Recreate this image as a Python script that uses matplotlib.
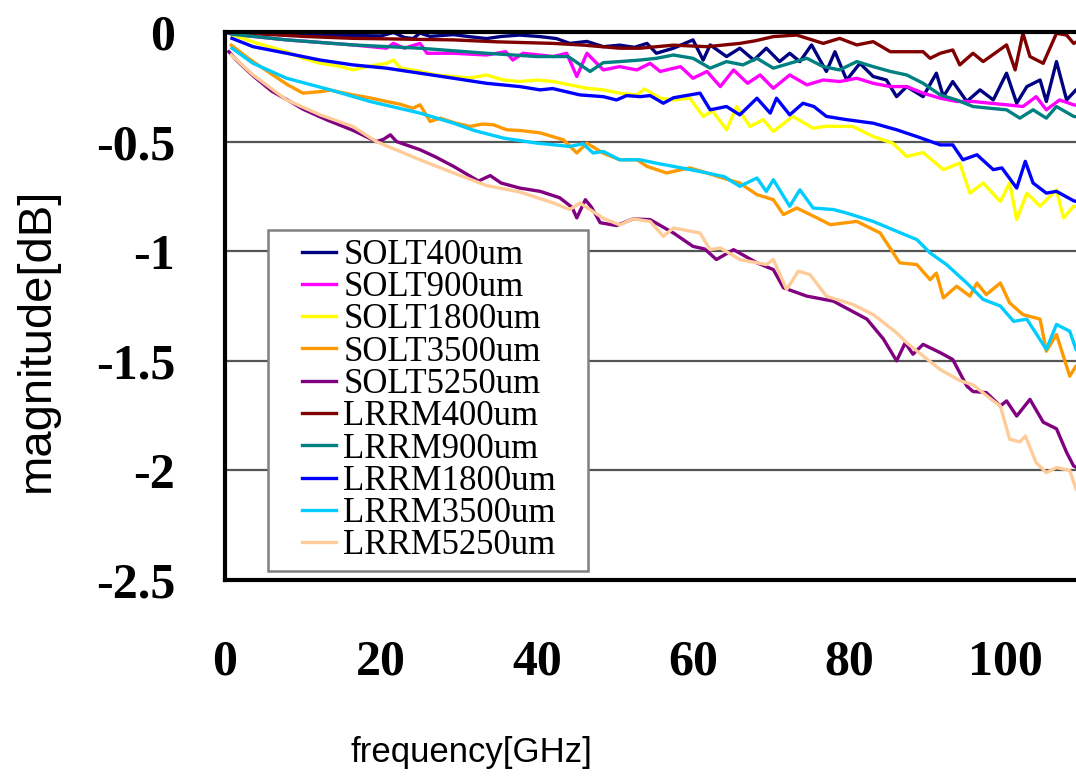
#!/usr/bin/env python3
from __future__ import annotations

import matplotlib

matplotlib.use("Agg")
import matplotlib.pyplot as plt
from matplotlib.legend_handler import HandlerLine2D
from matplotlib.lines import Line2D

# frequency [GHz] / magnitude [dB]
SOLT400_GHZ = [0.5, 5, 10, 15, 20, 21.6, 23, 24.1, 25, 26.3, 29.3, 31.5, 33.5, 35.5, 37.8,
               40.4, 42.5, 44.2, 46.4, 48.5, 50.6, 52.5, 54.1, 55.3, 57.5, 60, 61.3, 62.2,
               64.3, 66, 67.8, 69.4, 71.1, 72.4, 73.7, 75.2, 77.1, 78.2, 79.7, 81.4, 83.1,
               84.8, 86.1, 87.4, 89.5, 91.2, 92.1, 93.3, 95.1, 96.8, 98.5, 100.2, 101.5,
               102.8, 104.5, 105.3, 106.6, 107.9, 109.1, 110]
SOLT400_DB = [-0.005, -0.008, -0.012, -0.015, -0.018, -0.002, -0.025, -0.03, -0.005, -0.02,
              -0.012, -0.022, -0.03, -0.02, -0.014, -0.021, -0.03, -0.052, -0.043, -0.067,
              -0.06, -0.07, -0.052, -0.097, -0.074, -0.036, -0.128, -0.059, -0.112, -0.074,
              -0.128, -0.074, -0.135, -0.097, -0.135, -0.059, -0.18, -0.09, -0.219, -0.143,
              -0.203, -0.219, -0.295, -0.249, -0.295, -0.188, -0.295, -0.226, -0.317, -0.264,
              -0.31, -0.188, -0.325, -0.249, -0.219, -0.317, -0.135, -0.31, -0.264, -0.25]

SOLT900_GHZ = [0.9, 7.9, 16.4, 20.7, 21.6, 23, 25, 25.9, 29.3, 33.5, 36, 36.9, 38.2, 42.1,
               43.8, 45.1, 46.4, 48.5, 50.6, 52.8, 54.5, 55.8, 58.4, 60, 61.8, 63.5, 65.2,
               67, 68.6, 70.3, 72.4, 74.6, 76.7, 78.8, 81, 83.1, 85.3, 87.4, 89.5, 91.7,
               93.8, 95.9, 98.1, 100.2, 102.3, 104, 105.3, 107, 108.8, 110]
SOLT900_DB = [-0.01, -0.036, -0.059, -0.074, -0.052, -0.074, -0.052, -0.097, -0.097, -0.105,
              -0.09, -0.128, -0.097, -0.112, -0.097, -0.203, -0.097, -0.173, -0.158, -0.173,
              -0.143, -0.18, -0.158, -0.211, -0.18, -0.249, -0.173, -0.234, -0.196, -0.257,
              -0.196, -0.241, -0.219, -0.226, -0.211, -0.234, -0.249, -0.249, -0.279, -0.302,
              -0.317, -0.317, -0.325, -0.332, -0.34, -0.295, -0.355, -0.31, -0.332, -0.34]

SOLT1800_GHZ = [1, 4, 7.9, 10, 12.2, 14.5, 16.4, 18.6, 20.7, 21.6, 22.5, 24.1, 27.1, 29.3,
                31.4, 33.5, 35.7, 37.8, 40, 42.1, 44.2, 46.4, 48.5, 50.6, 52.8, 53.8, 55.8,
                57.5, 59.6, 61.3, 62.5, 64.3, 65.6, 67.3, 69, 70.3, 72.8, 75.4, 77, 80.5,
                83.1, 85.6, 86.5, 87.4, 89.5, 92.1, 94.2, 95.5, 97.2, 99.4, 100.6, 101.5,
                102.8, 104.5, 106.6, 107.5, 108.8, 110]
SOLT1800_DB = [-0.014, -0.05, -0.09, -0.12, -0.143, -0.155, -0.173, -0.155, -0.143, -0.128,
               -0.165, -0.173, -0.196, -0.203, -0.21, -0.196, -0.219, -0.226, -0.219, -0.226,
               -0.241, -0.257, -0.264, -0.279, -0.287, -0.26, -0.302, -0.31, -0.302, -0.385,
               -0.36, -0.446, -0.34, -0.431, -0.4, -0.454, -0.385, -0.439, -0.43, -0.431,
               -0.477, -0.507, -0.537, -0.568, -0.55, -0.628, -0.598, -0.735, -0.689, -0.773,
               -0.689, -0.856, -0.735, -0.795, -0.72, -0.848, -0.795, -0.8]

SOLT3500_GHZ = [0.8, 3, 5.8, 8, 10, 12.2, 13.5, 16.4, 18.5, 20.7, 22.5, 24.1, 25, 26.3, 27.6,
                29.5, 31.4, 33, 34.4, 36.1, 38, 40.4, 43.4, 45.1, 46.4, 48.5, 50.6, 52.8,
                54.1, 56.6, 59.6, 61.5, 63.8, 66, 68.2, 70.3, 71.6, 73.3, 75.9, 77.6, 81, 84,
                86.5, 88.7, 90.4, 91.2, 92.1, 93.8, 95.5, 96.4, 97.6, 99.4, 100.6, 102.3,
                104.5, 105.3, 106.6, 108.3, 109.1, 110]
SOLT3500_DB = [-0.06, -0.12, -0.188, -0.24, -0.279, -0.272, -0.265, -0.287, -0.3, -0.317,
               -0.33, -0.348, -0.332, -0.408, -0.393, -0.415, -0.431, -0.42, -0.423, -0.446,
               -0.45, -0.46, -0.492, -0.552, -0.507, -0.553, -0.583, -0.583, -0.613, -0.643,
               -0.62, -0.64, -0.666, -0.689, -0.742, -0.765, -0.833, -0.803, -0.848, -0.879,
               -0.864, -0.917, -1.053, -1.061, -1.13, -1.1, -1.213, -1.16, -1.205, -1.145,
               -1.198, -1.145, -1.236, -1.289, -1.31, -1.456, -1.38, -1.57, -1.524, -1.55]

SOLT5250_GHZ = [0.5, 1.5, 3.6, 6, 8, 10, 13, 16.5, 19.4, 20.3, 21.2, 22, 25, 27, 29.3, 32.5,
                34, 35.4, 37.8, 40.4, 42.9, 44.5, 45.1, 46.2, 47, 48.1, 50.2, 52.3, 54.5,
                57.5, 60, 61.5, 63, 65.2, 68.2, 70.3, 71.6, 74.6, 78, 82.3, 84.4, 86.1, 87.2,
                88.2, 89.5, 91.7, 93.3, 95.1, 95.9, 97.6, 99.4, 100.2, 101.5, 103.2, 104.9,
                106.6, 107.9, 108.8, 110]
SOLT5250_DB = [-0.09, -0.13, -0.2, -0.27, -0.31, -0.352, -0.4, -0.45, -0.5, -0.49, -0.469,
               -0.5, -0.537, -0.57, -0.613, -0.68, -0.655, -0.689, -0.712, -0.727, -0.756,
               -0.8, -0.848, -0.765, -0.8, -0.87, -0.883, -0.853, -0.856, -0.917, -0.978,
               -0.99, -1.038, -0.993, -1.053, -1.084, -1.167, -1.205, -1.228, -1.31, -1.4,
               -1.5, -1.418, -1.47, -1.425, -1.463, -1.494, -1.615, -1.64, -1.645, -1.706,
               -1.683, -1.752, -1.676, -1.78, -1.81, -1.918, -1.98, -2.0]

LRRM400_GHZ = [0.5, 5, 10, 16.4, 22, 29.3, 35, 42.1, 46, 50.6, 53.2, 57.5, 61.8, 66, 68,
               70.3, 73.3, 76.7, 78.8, 81, 83.1, 85.3, 87.4, 89.5, 90.4, 91.7, 93.3, 94.2,
               95.9, 97.2, 100.2, 101.3, 102.3, 103.2, 104.9, 106.6, 107.9, 108.8, 110]
LRRM400_DB = [0.0, -0.01, -0.02, -0.029, -0.032, -0.036, -0.045, -0.052, -0.06, -0.074,
              -0.074, -0.06, -0.067, -0.052, -0.04, -0.021, -0.014, -0.052, -0.029, -0.059,
              -0.044, -0.09, -0.09, -0.09, -0.12, -0.097, -0.082, -0.15, -0.097, -0.135,
              -0.059, -0.173, -0.006, -0.112, -0.143, -0.006, -0.014, -0.052, -0.03]

LRRM900_GHZ = [0.9, 7.9, 16.4, 25, 33.5, 40, 44, 46.8, 48.5, 50.6, 53.2, 55.3, 57.5, 60,
               62.2, 64.3, 66.4, 68.2, 70.3, 72.4, 74.6, 76.7, 78.8, 81, 83.1, 85.3, 87.4,
               89.5, 91.7, 93.8, 95.9, 98.1, 100.2, 101.9, 103.6, 105.3, 106.6, 108.8, 110]
LRRM900_DB = [-0.01, -0.036, -0.059, -0.074, -0.097, -0.112, -0.112, -0.18, -0.14, -0.135,
              -0.128, -0.12, -0.105, -0.12, -0.165, -0.135, -0.15, -0.12, -0.165, -0.143,
              -0.12, -0.158, -0.173, -0.135, -0.158, -0.18, -0.196, -0.234, -0.287, -0.31,
              -0.34, -0.348, -0.355, -0.393, -0.355, -0.393, -0.34, -0.385, -0.39]

LRRM1800_GHZ = [0.9, 3.6, 7.9, 12.2, 16.4, 20.7, 25, 29.3, 33.5, 37.8, 40.4, 42, 45.5, 48.5,
                50.2, 51.5, 53.2, 54.5, 56.2, 57.5, 60.9, 62.2, 64.3, 66, 68.2, 69.9, 70.7,
                72.4, 74.1, 75.5, 77.1, 79.7, 83.1, 86.1, 88.7, 91.7, 93.3, 94.6, 96.4, 98.5,
                99.6, 101.5, 102.6, 103.6, 105.3, 106.6, 108.8, 110]
LRRM1800_DB = [-0.029, -0.067, -0.097, -0.128, -0.15, -0.165, -0.188, -0.211, -0.234, -0.249,
               -0.264, -0.258, -0.287, -0.295, -0.31, -0.29, -0.295, -0.29, -0.325, -0.3,
               -0.279, -0.355, -0.34, -0.378, -0.302, -0.37, -0.302, -0.378, -0.325, -0.34,
               -0.385, -0.4, -0.416, -0.446, -0.477, -0.515, -0.515, -0.583, -0.56, -0.628,
               -0.62, -0.712, -0.59, -0.689, -0.735, -0.727, -0.77, -0.78]

LRRM3500_GHZ = [0.9, 3.6, 7.9, 13.5, 18.6, 25, 29.3, 32, 35.7, 40, 44.2, 45.9, 47.2, 48.5,
                50.6, 53.2, 55.5, 57.5, 61.8, 64, 66, 68.2, 69.4, 70.3, 72.4, 73.7, 75.4, 78,
                79.7, 83.1, 86.1, 88.7, 90.4, 92.5, 95.1, 97.2, 99.4, 101.1, 102.8, 105.3,
                106.6, 108.3, 109.1, 110]
LRRM3500_DB = [-0.074, -0.143, -0.211, -0.264, -0.317, -0.37, -0.416, -0.45, -0.484, -0.507,
               -0.522, -0.51, -0.552, -0.545, -0.583, -0.583, -0.6, -0.613, -0.643, -0.66,
               -0.704, -0.666, -0.727, -0.674, -0.795, -0.72, -0.803, -0.81, -0.826, -0.864,
               -0.909, -0.947, -1.008, -1.061, -1.145, -1.22, -1.25, -1.32, -1.31, -1.448,
               -1.334, -1.365, -1.448, -1.48]

LRRM5250_GHZ = [0.8, 3.6, 7.9, 12.2, 16.4, 19.4, 25, 29.3, 33.5, 37.8, 42.1, 44.2, 45.5,
                48.5, 50.6, 52.3, 54.5, 56.2, 57.5, 60.9, 62.2, 63.5, 66, 69.4, 70.3, 72,
                73.5, 75, 77.1, 80.5, 83.1, 86.1, 87.4, 89.5, 91.7, 94.2, 95.9, 98.5, 99.4,
                100.6, 101.9, 102.6, 104, 105.3, 106.6, 108.3, 109.1, 110]
LRRM5250_DB = [-0.105, -0.196, -0.31, -0.378, -0.431, -0.5, -0.583, -0.643, -0.7, -0.73,
               -0.78, -0.81, -0.78, -0.85, -0.88, -0.853, -0.864, -0.932, -0.894, -0.917,
               -0.993, -0.985, -1.038, -1.061, -1.038, -1.175, -1.091, -1.107, -1.205, -1.243,
               -1.289, -1.372, -1.418, -1.478, -1.54, -1.59, -1.61, -1.683, -1.706, -1.858,
               -1.87, -1.843, -1.965, -2.01, -1.987, -2.0, -2.085, -2.12]

SERIES_NAMES = ["SOLT400um", "SOLT900um", "SOLT1800um", "SOLT3500um", "SOLT5250um",
                "LRRM400um", "LRRM900um", "LRRM1800um", "LRRM3500um", "LRRM5250um"]
SERIES_COLORS = ["#000080", "#FF00FF", "#FFFF00", "#FF9900", "#800080",
                 "#800000", "#008080", "#0000FF", "#00CCFF", "#FFCC99"]

Y_TICKS = [0, -0.5, -1, -1.5, -2, -2.5]
Y_TICK_LABELS = ["0", "-0.5", "-1", "-1.5", "-2", "-2.5"]
X_TICKS = [0, 20, 40, 60, 80, 100]
X_TICK_LABELS = ["0", "20", "40", "60", "80", "100"]


class _InsetLine(HandlerLine2D):
  """Legend line that only fills the right part of the handle box."""

  def get_xdata(self, legend, xdescent, ydescent, width, height, fontsize):
    x0 = -xdescent + 0.43 * width
    x1 = -xdescent + width
    return [x0, x1], [0.5 * (x0 + x1)]


def main() -> None:
  freqs = [SOLT400_GHZ, SOLT900_GHZ, SOLT1800_GHZ, SOLT3500_GHZ, SOLT5250_GHZ,
           LRRM400_GHZ, LRRM900_GHZ, LRRM1800_GHZ, LRRM3500_GHZ, LRRM5250_GHZ]
  mags = [SOLT400_DB, SOLT900_DB, SOLT1800_DB, SOLT3500_DB, SOLT5250_DB,
          LRRM400_DB, LRRM900_DB, LRRM1800_DB, LRRM3500_DB, LRRM5250_DB]

  W, H = 1076, 784
  fig = plt.figure(figsize=(W / 100, H / 100), dpi=100)
  fig.patch.set_facecolor("white")
  # plot frame is cut off on the right in the reference, so the axes run past the figure edge
  ax = fig.add_axes([225 / W, (H - 580) / H, 936 / W, 548 / H])

  for f, m, name, color in zip(freqs, mags, SERIES_NAMES, SERIES_COLORS):
    ax.plot(f, m, color=color, linewidth=2.4, label=name)

  ax.set_xlim(0, 120)
  ax.set_ylim(-2.5, 0)
  ax.set_yticks(Y_TICKS, labels=Y_TICK_LABELS)
  ax.set_xticks(X_TICKS, labels=X_TICK_LABELS)
  ax.set_axisbelow(True)
  ax.yaxis.grid(True, color="#555555", linewidth=1.6)
  ax.xaxis.grid(False)

  for lab in ax.get_xticklabels() + ax.get_yticklabels():
    lab.set_fontfamily("Liberation Serif")
    lab.set_fontweight("bold")
    lab.set_fontsize(36)
  ax.tick_params(axis="both", length=0, colors="black")
  ax.tick_params(axis="y", pad=36)
  ax.tick_params(axis="x", pad=43)

  for side in ("left", "top", "bottom"):
    ax.spines[side].set_linewidth(3)
    ax.spines[side].set_color("black")
  ax.spines["right"].set_visible(False)

  ax.set_xlabel("frequency[GHz]", fontfamily="Liberation Sans", fontsize=25)
  ax.xaxis.set_label_coords((471 - 225) / 936, (580 - 736) / 548)
  ax.set_ylabel("magnitude[dB]", fontfamily="Liberation Sans", fontsize=34, va="center")
  ax.yaxis.set_label_coords(-(225 - 37) / 936, (580 - 340) / 548)

  leg = ax.legend(loc="upper left",
                  bbox_to_anchor=((268 - 225) / 936, 0.0, (588 - 268) / 936, (580 - 230) / 548),
                  mode="expand",
                  borderaxespad=0,
                  prop={"family": "Liberation Serif", "size": 25},
                  handler_map={Line2D: _InsetLine()},
                  handlelength=1.7,
                  handletextpad=0.22,
                  borderpad=0.25,
                  labelspacing=-0.02,
                  fancybox=False,
                  shadow=False,
                  framealpha=1)
  leg.get_frame().set_edgecolor("#808080")
  leg.get_frame().set_linewidth(1.8)

  fig.savefig("out.png", dpi=100)
  plt.close(fig)


if __name__ == "__main__":
  main()
